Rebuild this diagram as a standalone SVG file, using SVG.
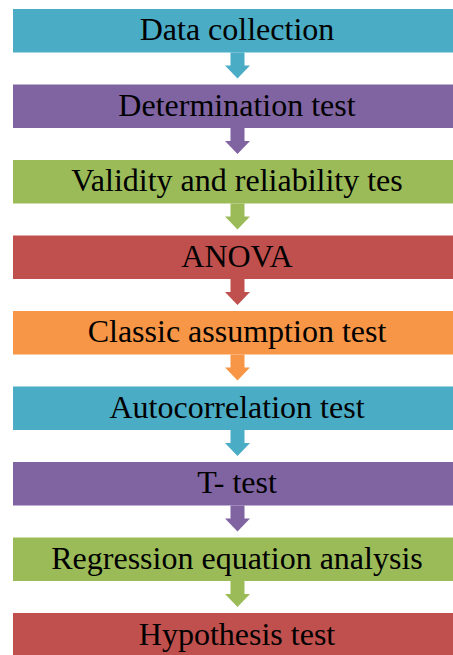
<svg xmlns="http://www.w3.org/2000/svg" width="453" height="655" viewBox="0 0 453 655">
<style>
.lbl{font-family:"Liberation Serif","Times New Roman",serif;font-size:32px;fill:#000;text-anchor:middle}
.blue{fill:#4BACC6}.purple{fill:#8064A2}.green{fill:#9BBB59}.red{fill:#C0504D}.orange{fill:#F79646}
</style>
<defs>
<path id="arr" d="M-7,0 H7 V13 H12.5 L0,26 L-12.5,13 H-7 Z"/>
</defs>
<rect width="453" height="655" fill="#fff"/>
<g id="connectors">
<use href="#arr" class="blue" x="237.5" y="52.5"/>
<use href="#arr" class="purple" x="237.5" y="128"/>
<use href="#arr" class="green" x="237.5" y="203.5"/>
<use href="#arr" class="red" x="237.5" y="279"/>
<use href="#arr" class="orange" x="237.5" y="354.5"/>
<use href="#arr" class="blue" x="237.5" y="430"/>
<use href="#arr" class="purple" x="237.5" y="505.5"/>
<use href="#arr" class="green" x="237.5" y="581"/>
</g>
<g id="n1"><rect class="blue" x="13" y="9" width="449" height="43.5"/><text class="lbl" x="237" y="40">Data collection</text></g>
<g id="n2"><rect class="purple" x="13" y="84.5" width="449" height="43.5"/><text class="lbl" x="237" y="115.5">Determination test</text></g>
<g id="n3"><rect class="green" x="13" y="160" width="449" height="43.5"/><text class="lbl" x="237" y="191">Validity and reliability tes</text></g>
<g id="n4"><rect class="red" x="13" y="235.5" width="449" height="43.5"/><text class="lbl" x="237" y="266.5">ANOVA</text></g>
<g id="n5"><rect class="orange" x="13" y="311" width="449" height="43.5"/><text class="lbl" x="237" y="342">Classic assumption test</text></g>
<g id="n6"><rect class="blue" x="13" y="386.5" width="449" height="43.5"/><text class="lbl" x="237" y="417.5">Autocorrelation test</text></g>
<g id="n7"><rect class="purple" x="13" y="462" width="449" height="43.5"/><text class="lbl" x="237" y="493">T- test</text></g>
<g id="n8"><rect class="green" x="13" y="537.5" width="449" height="43.5"/><text class="lbl" x="237" y="568.5">Regression equation analysis</text></g>
<g id="n9"><rect class="red" x="13" y="613" width="449" height="43.5"/><text class="lbl" x="237" y="644.5">Hypothesis test</text></g>
</svg>
